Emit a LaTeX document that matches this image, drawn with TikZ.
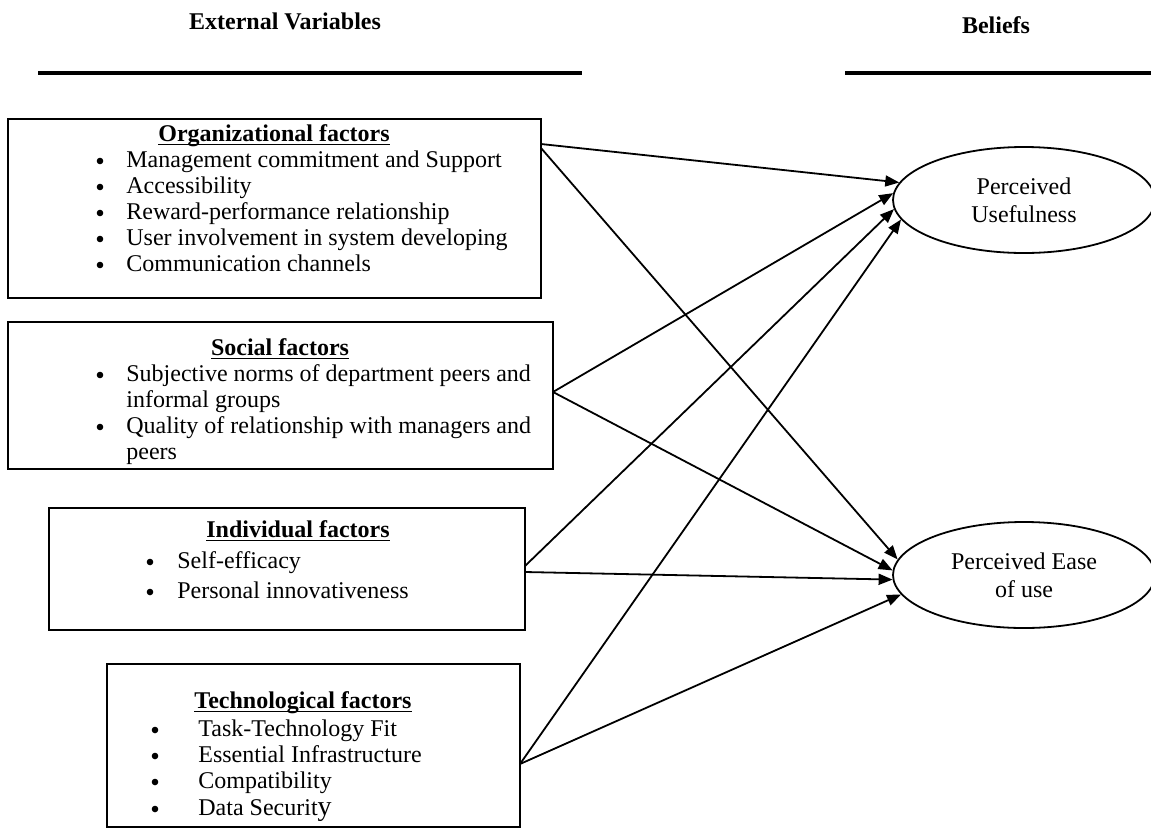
\documentclass[tikz,border=0pt]{standalone}
\usepackage{fontspec}
\setmainfont{Liberation Serif}
\usetikzlibrary{arrows.meta,shapes.geometric}
\newcommand{\myul}[1]{\setbox0\hbox{#1}\rlap{\rule[-2.1pt]{\wd0}{0.85pt}}\box0}
\begin{document}
\begin{tikzpicture}[x=0.5pt,y=-0.5pt,
  every node/.style={font=\fontsize{12}{13.8}\selectfont, inner sep=0pt},
  box/.style={draw, line width=1.2pt},
  hdr/.style={anchor=base, font=\fontsize{12}{13.8}\selectfont\bfseries},
  itm/.style={anchor=base west},
  bul/.style={circle, fill, minimum size=3.3pt, inner sep=0pt},
  rule/.style={line width=2pt},
  arr/.style={-{Triangle[length=7pt,width=5.5pt]}, line width=0.9pt},
  ell/.style={draw, ellipse, line width=0.9pt, minimum width=131pt, minimum height=53pt, inner sep=0pt, align=center}
]
\useasboundingbox (0,0) rectangle (1151,836);

% headers
\node[hdr] (ev) at (285,29) {External Variables};
\node[hdr] (bel) at (996,33) {Beliefs};
\coordinate (l1a) at (38,73);
\coordinate (l1b) at (582,73);
\coordinate (l2a) at (845,73);
\coordinate (l2b) at (1151,73);
\draw[rule] (l1a) -- (l1b);
\draw[rule] (l2a) -- (l2b);

% organizational box
\draw[box] (8,119) rectangle (541,298);
\node[hdr] (orgh) at (274,141) {\myul{Organizational factors}};
\foreach \y/\t [count=\i] in {167/Management commitment and Support,193/Accessibility,219/Reward-performance relationship,245/User involvement in system developing,271/Communication channels}{
  \node[bul] (ob\i) at (100,\y-6) {};
  \node[itm] (oi\i) at (126,\y) {\t};
}

% social box
\draw[box] (8,322) rectangle (553,469);
\node[hdr] (soch) at (280,355) {\myul{Social factors}};
\node[bul] (sb1) at (100,375) {};
\node[itm] (si1) at (126,381) {Subjective norms of department peers and};
\node[itm] (si2) at (126,407) {informal groups};
\node[bul] (sb3) at (100,427) {};
\node[itm] (si3) at (126,433) {Quality of relationship with managers and};
\node[itm] (si4) at (126,459) {peers};

% individual box
\draw[box] (49,508) rectangle (525,630);
\node[hdr] (indh) at (298,537) {\myul{Individual factors}};
\node[bul] (ib1) at (150,562) {};
\node[itm] (ii1) at (177,568) {Self-efficacy};
\node[bul] (ib2) at (150,592) {};
\node[itm] (ii2) at (177,598) {Personal innovativeness};

% technological box
\draw[box] (107,664) rectangle (520,827);
\node[hdr] (tech) at (303,708) {\myul{Technological factors}};
\node[bul] (tb1) at (155,730) {};
\node[itm] (ti1) at (198,736) {Task-Technology Fit};
\node[bul] (tb2) at (155,756) {};
\node[itm] (ti2) at (198,762) {Essential Infrastructure};
\node[bul] (tb3) at (155,782) {};
\node[itm] (ti3) at (198,788) {Compatibility};
\node[bul] (tb4) at (155,809) {};
\node[itm] (ti4) at (198,815) {Data Securit{\fontsize{14}{14}\selectfont y}};

% ellipses
\node[ell] (pu) at (1024,200) {Perceived\\Usefulness};
\node[ell] (pe) at (1024,575) {Perceived Ease\\of use};

% connector start points
\coordinate (o1) at (541,144);
\coordinate (o2) at (541,148);
\coordinate (s1) at (553,392);
\coordinate (i1) at (525,566);
\coordinate (i2) at (525,572);
\coordinate (t1) at (520,764);

\draw[arr] (o1) -- (pu.172);
\draw[arr] (o2) -- (pe.173);
\draw[arr] (s1) -- (pu.177);
\draw[arr] (s1) -- (pe.178);
\draw[arr] (i1) -- (pu.184);
\draw[arr] (i2) -- (pe.182);
\draw[arr] (t1) -- (pu.189);
\draw[arr] (t1) -- (pe.189);
\end{tikzpicture}
\end{document}
